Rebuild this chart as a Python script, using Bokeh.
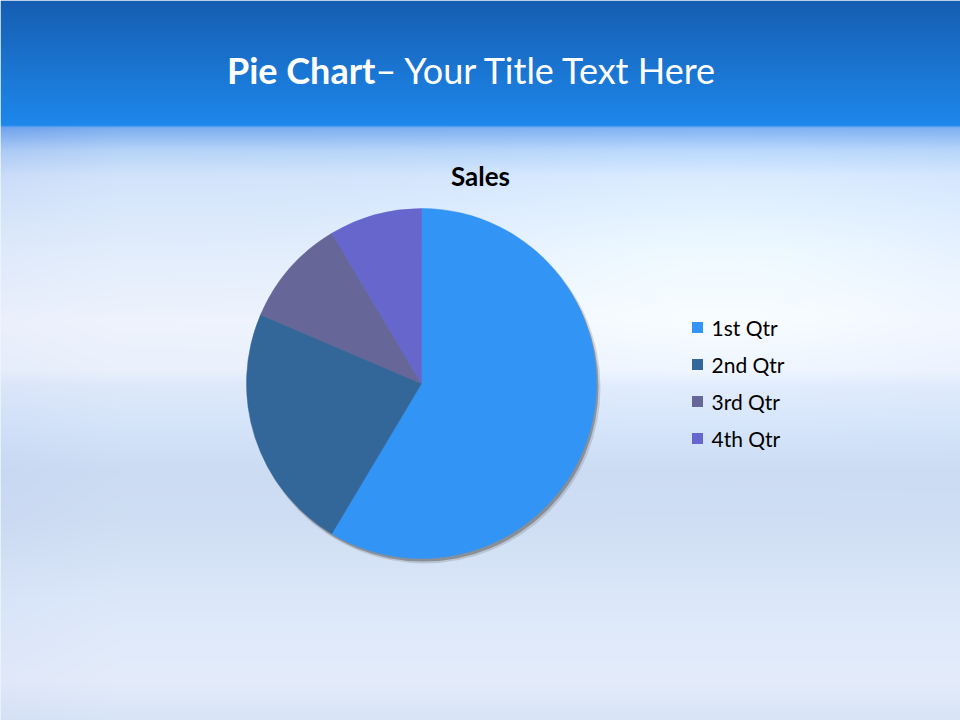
import numpy as np
from bokeh.plotting import figure
from bokeh.models import Range1d
from bokeh.core.properties import value
from bokeh.embed import file_html
from bokeh.resources import INLINE

# ---- data ----
categories = ["1st Qtr", "2nd Qtr", "3rd Qtr", "4th Qtr"]
sales = [8.2, 3.2, 1.4, 1.2]
colors = ["#3294F4", "#336699", "#666699", "#6666CC"]
title_bold = "Pie Chart"
title_rest = "\u2013 Your Title Text Here"
chart_title = "Sales"

W, H = 960, 720
p = figure(width=W, height=H, output_backend="svg", toolbar_location=None,
           x_range=Range1d(0, W), y_range=Range1d(0, H),
           min_border=0, outline_line_color=None)
p.axis.visible = False
p.grid.visible = False
p.background_fill_color = "#e4edfb"
p.border_fill_color = "#e4edfb"

def up(yref):
    return 720 - yref

# ---- background gradient (decoration) ----
stops_y = [0, 125, 127, 150, 175, 250, 320, 370, 385, 420, 470, 520, 600, 680, 720]
stops_c = [(22, 94, 178), (30, 136, 236), (125, 175, 240), (182, 212, 248),
           (210, 228, 251), (226, 237, 252), (238, 243, 253), (234, 241, 252),
           (222, 233, 250), (214, 229, 250), (204, 220, 243), (207, 222, 243),
           (220, 232, 250), (228, 236, 250), (216, 228, 247)]
ys = np.arange(0, H) + 0.5
xs = np.arange(0, W) + 0.5
col = np.stack([np.interp(ys, stops_y, [c[i] for c in stops_c]) for i in range(3)], axis=-1)
img = np.repeat(col[:, None, :], len(xs), axis=1)
X, Y = np.meshgrid(xs, ys)
sky = (Y > 127)
glow = np.exp(-(((X - 720) / 260) ** 2 + ((Y - 260) / 120) ** 2)) * 12
leftdark = np.clip((120 - X) / 120, 0, 1) * 12 * np.clip((260 - Y) / 130, 0.3, 1)
for i in range(3):
    adj = glow - leftdark * (1 if i < 2 else 0.3)
    img[..., i] = np.where(sky, np.clip(img[..., i] + adj, 0, 255), img[..., i])
rgba = np.zeros((len(ys), len(xs)), dtype=np.uint32)
view = rgba.view(dtype=np.uint8).reshape((len(ys), len(xs), 4))
view[..., 0] = img[..., 0].astype(np.uint8)
view[..., 1] = img[..., 1].astype(np.uint8)
view[..., 2] = img[..., 2].astype(np.uint8)
view[..., 3] = 255
rgba = rgba[::-1]  # row 0 at bottom
p.image_rgba(image=[rgba], x=0, y=0, dw=W, dh=H)

# ---- titles ----
p.text(x=[375], y=[up(69)], text=[title_bold], text_font=value("Lato"),
       text_font_style="bold", text_font_size="36px", text_color="white",
       text_align="right", text_baseline="middle")
p.text(x=[375], y=[up(69)], text=[title_rest], text_font=value("Lato"),
       text_font_size="36px", text_color="white",
       text_align="left", text_baseline="middle")
p.text(x=[480], y=[up(175)], text=[chart_title], text_font=value("Lato"),
       text_font_style="bold", text_font_size="26px", text_color="black",
       text_align="center", text_baseline="middle")

# ---- pie ----
cx, cy, r = 421, up(383), 175
p.circle(x=[cx + 3], y=[cy - 4], radius=r + 1, fill_color="#707070", fill_alpha=0.25, line_color=None)
p.circle(x=[cx + 2], y=[cy - 3], radius=r, fill_color="#505050", fill_alpha=0.45, line_color=None)
total = sum(sales)
cum = np.concatenate([[0], np.cumsum(sales)])
starts = [np.pi / 2 - 2 * np.pi * c / total for c in cum[:-1]]
ends = [np.pi / 2 - 2 * np.pi * c / total for c in cum[1:]]
p.wedge(x=cx, y=cy, radius=r, start_angle=starts, end_angle=ends, direction="clock",
        fill_color=colors, line_color=colors, line_width=0.5)

# ---- legend ----
n = len(categories)
ly = [up(327 + 37 * i) for i in range(n)]
p.scatter(x=[697] * n, y=ly, marker="square", size=11, fill_color=colors, line_color=None)
p.text(x=[711] * n, y=ly, text=categories, text_font=value("Lato"),
       text_font_size="21px", text_color="black", text_align="left", text_baseline="middle")

open("out.html", "w").write(file_html(p, INLINE))
